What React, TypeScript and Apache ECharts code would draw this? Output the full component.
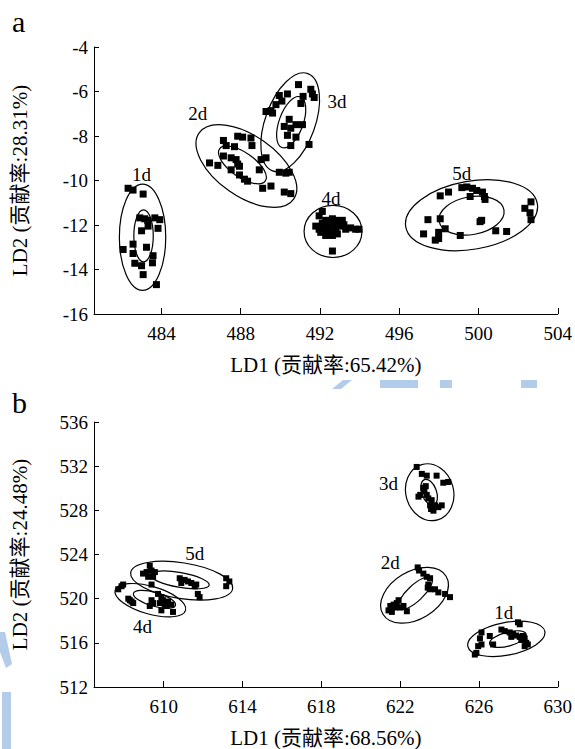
import React, { useEffect, useRef } from "react";
import * as echarts from "echarts";

const FONT = '"Liberation Serif", "Times New Roman", "Noto Sans CJK SC", serif';

// ---------- Panel a ----------
const X_TICKS_A = [484, 488, 492, 496, 500, 504];
const A_1D: number[][] = [
  [482.32, -10.35], [482.57, -10.43], [483.08, -10.61], [482.91, -11.68], [483.16, -11.72],
  [483.31, -11.79], [483.67, -11.68], [483.92, -11.76], [483.0, -12.26], [483.33, -12.05],
  [483.83, -12.15], [482.57, -12.86], [482.07, -13.1], [482.57, -13.28], [483.25, -13.0],
  [483.58, -13.38], [482.66, -13.72], [483.0, -13.83], [483.55, -13.7], [483.08, -14.23],
  [483.75, -14.68],
];
const A_2D: number[][] = [
  [486.43, -9.21], [486.85, -9.32], [487.13, -8.2], [487.27, -8.43], [487.69, -8.48],
  [487.85, -8.01], [488.1, -8.05], [488.52, -8.09], [488.57, -8.43], [487.13, -8.9],
  [487.52, -8.98], [487.77, -9.06], [487.85, -9.26], [487.52, -9.52], [487.94, -9.36],
  [489.03, -9.06], [489.28, -8.98], [488.94, -9.52], [487.94, -9.75], [488.19, -9.94],
  [488.35, -10.03], [489.11, -10.35], [489.53, -10.25], [489.95, -9.63], [490.28, -9.67],
  [490.45, -9.63], [490.2, -10.52], [490.53, -10.59],
];
const A_3D: number[][] = [
  [490.92, -5.69], [489.95, -6.18], [490.36, -6.11], [490.08, -6.43], [489.78, -6.59],
  [489.53, -6.86], [489.28, -6.9], [489.61, -6.97], [491.54, -5.9], [491.71, -6.27],
  [491.15, -6.22], [491.04, -6.54], [491.62, -6.11], [490.45, -7.25], [490.53, -7.65],
  [490.2, -7.57], [490.79, -7.49], [491.12, -7.49], [490.36, -7.97], [490.79, -8.05],
  [490.53, -8.43], [491.45, -8.38],
];
const A_4D: number[][] = [
  [492.12, -11.39], [491.96, -11.59], [491.79, -12.05], [491.96, -12.19], [492.12, -11.92],
  [492.29, -11.79], [492.46, -11.85], [492.63, -11.72], [492.8, -11.79], [492.96, -11.85],
  [493.13, -11.79], [493.05, -12.05], [492.8, -12.19], [492.54, -12.33], [492.29, -12.47],
  [492.04, -12.33], [492.21, -12.05], [492.46, -12.05], [492.71, -11.99], [493.55, -12.13],
  [493.8, -12.19], [493.97, -12.19], [492.63, -13.17], [493.21, -11.99], [492.88, -12.4],
  [492.37, -12.26], [492.63, -12.47], [493.3, -12.19],
];
const A_5D: number[][] = [
  [499.16, -10.32], [499.41, -10.29], [499.7, -10.35], [499.91, -10.45], [500.2, -10.52],
  [500.3, -10.72], [500.33, -10.85], [499.58, -10.72], [498.07, -10.69], [498.49, -10.52],
  [502.65, -10.96], [502.34, -11.25], [502.6, -11.45], [502.65, -11.76], [497.45, -11.76],
  [498.07, -11.72], [498.32, -12.17], [497.99, -12.33], [497.23, -12.4], [497.82, -12.68],
  [497.99, -12.61], [499.08, -12.47], [500.08, -11.85], [500.16, -11.79], [500.87, -12.26],
  [501.42, -12.29],
];
// ellipse: [centre x, centre y, semi-axis 1, semi-axis 2, angle in degrees]
const ELLIPSES_A: number[][] = [
  [483.05, -12.55, 1.17, 2.39, 0], [483.1, -12.49, 0.49, 1.17, 0],
  [488.29, -9.35, 2.91, 1.36, -35], [488.09, -9.3, 1.41, 0.55, -35],
  [490.5, -7.38, 2.61, 1.12, 70], [490.55, -7.38, 1.36, 0.54, 70],
  [492.66, -12.29, 1.46, 1.17, 0],
  [499.65, -11.56, 3.37, 1.53, 10], [499.65, -11.58, 1.66, 0.85, 10],
];
const LABEL_TEXT_A = ["1d", "2d", "3d", "4d", "5d"];
const LABEL_POS_A: number[][] = [
  [483.0, -9.72], [485.84, -7.01], [492.86, -6.46], [492.56, -10.79], [499.16, -9.67],
];

// ---------- Panel b ----------
const X_TICKS_B = [610, 614, 618, 622, 626, 630];
const B_1D: number[][] = [
  [627.98, 517.86], [628.07, 517.68], [627.14, 517.2], [627.31, 517.06], [627.56, 516.94],
  [627.73, 516.8], [627.64, 516.54], [627.89, 516.66], [628.07, 516.54], [628.23, 516.62],
  [628.32, 516.4], [628.15, 516.26], [628.4, 516.0], [628.48, 515.85], [628.32, 515.7],
  [626.13, 516.94], [626.55, 516.62], [626.05, 516.4], [625.96, 515.7], [626.13, 515.85],
  [626.72, 515.85], [625.79, 514.94], [625.87, 515.09],
];
const B_2D: number[][] = [
  [622.89, 522.83], [622.96, 522.55], [623.18, 522.27], [623.35, 521.98], [623.52, 521.85],
  [623.43, 521.28], [623.4, 521.0], [623.52, 520.85], [623.77, 520.85], [623.94, 520.57],
  [624.28, 520.43], [624.53, 520.14], [621.92, 519.86], [621.83, 519.6], [621.67, 519.46],
  [621.5, 519.34], [621.41, 518.94], [621.58, 518.8], [622.17, 519.34], [622.34, 518.86],
  [622.0, 519.2], [621.75, 519.2],
];
const B_3D: number[][] = [
  [622.84, 531.93], [623.1, 531.3], [623.35, 531.14], [623.85, 531.14], [624.19, 530.5],
  [624.44, 530.57], [623.02, 529.4], [622.93, 529.24], [623.23, 529.71], [623.35, 529.4],
  [623.43, 529.08], [623.6, 528.92], [623.52, 528.45], [623.69, 528.29], [623.77, 528.45],
  [623.94, 528.29], [624.11, 528.45], [623.69, 527.97], [623.57, 528.12], [623.18, 530.03],
  [623.3, 530.19],
];
const B_4D: number[][] = [
  [607.86, 521.13], [607.69, 520.85], [607.94, 521.28], [608.2, 520.0], [608.28, 519.86],
  [608.45, 519.6], [608.37, 519.74], [609.38, 519.86], [609.46, 519.6], [609.29, 519.34],
  [609.71, 520.43], [609.88, 520.14], [609.96, 519.86], [609.8, 519.6], [610.05, 519.46],
  [610.22, 519.74], [610.14, 519.34], [610.39, 519.46], [609.88, 518.94], [610.47, 518.8],
];
const B_5D: number[][] = [
  [609.29, 522.98], [609.38, 522.55], [609.13, 522.41], [609.55, 522.41], [608.95, 522.27],
  [609.21, 521.98], [609.46, 521.98], [609.38, 521.28], [610.81, 521.85], [611.06, 521.7],
  [611.23, 521.56], [610.89, 521.42], [611.4, 521.42], [611.65, 521.28], [611.57, 521.13],
  [613.17, 521.85], [613.33, 521.56], [613.17, 521.13], [611.73, 520.43], [611.82, 520.14],
];
const ELLIPSES_B: number[][] = [
  [627.39, 516.36, 1.99, 1.48, 11], [627.47, 516.34, 0.96, 0.63, 15],
  [622.73, 520.31, 1.87, 2.16, 31], [622.76, 520.49, 1.14, 0.72, 43],
  [623.5, 529.64, 1.46, 2.16, -74], [623.47, 529.64, 0.68, 0.67, -70],
  [609.32, 519.86, 1.86, 1.25, -16], [609.53, 519.94, 1.11, 0.63, -16],
  [610.91, 521.63, 2.62, 1.62, -9], [610.81, 521.7, 1.52, 0.67, -10],
];
const LABEL_TEXT_B = ["1d", "2d", "3d", "4d", "5d"];
const LABEL_POS_B: number[][] = [
  [627.26, 518.74], [621.5, 523.26], [621.41, 530.45], [608.92, 517.52], [611.57, 524.12],
];

const AXIS_NAMES = {
  ax: "LD1 (贡献率:65.42%)",
  ay: "LD2 (贡献率:28.31%)",
  bx: "LD1 (贡献率:68.56%)",
  by: "LD2 (贡献率:24.48%)",
};

const WATERMARK = "#b3cce9";

function ellipseRender(params: any, api: any) {
  const c = api.coord([api.value(0), api.value(1)]);
  const s = api.size([api.value(2), api.value(3)]);
  return {
    type: "ellipse",
    x: c[0],
    y: c[1],
    rotation: (api.value(4) * Math.PI) / 180,
    shape: { cx: 0, cy: 0, rx: s[0], ry: s[1] },
    style: { fill: "none", stroke: "#000", lineWidth: 1.2 },
    silent: true,
  };
}

function labelRender(texts: string[]) {
  return (params: any, api: any) => {
    const p = api.coord([api.value(0), api.value(1)]);
    return {
      type: "text",
      x: p[0],
      y: p[1],
      style: {
        text: texts[params.dataIndex],
        fill: "#000",
        fontSize: 19,
        fontFamily: FONT,
        align: "center",
        verticalAlign: "middle",
      },
      silent: true,
    };
  };
}

function xAxisCfg(grid: number, min: number, max: number, ticks: number[], name: string) {
  return {
    gridIndex: grid,
    type: "value",
    min,
    max,
    axisLine: { show: true, lineStyle: { color: "#000", width: 1 } },
    axisTick: { show: true, inside: true, length: 6, customValues: ticks, lineStyle: { color: "#000" } },
    axisLabel: { customValues: ticks, color: "#000", fontSize: 19, fontFamily: FONT, margin: 10 },
    splitLine: { show: false },
    name,
    nameLocation: "middle",
    nameGap: 40,
    nameTextStyle: { color: "#000", fontSize: 21, fontFamily: FONT },
  };
}

function yAxisCfg(grid: number, min: number, max: number, interval: number, name: string) {
  return {
    gridIndex: grid,
    type: "value",
    min,
    max,
    interval,
    axisLine: { show: true, lineStyle: { color: "#000", width: 1 } },
    axisTick: { show: true, inside: true, length: 5, lineStyle: { color: "#000" } },
    axisLabel: { color: "#000", fontSize: 19, fontFamily: FONT, margin: 6 },
    splitLine: { show: false },
    name,
    nameLocation: "middle",
    nameGap: 64,
    nameRotate: 90,
    nameTextStyle: { color: "#000", fontSize: 21, fontFamily: FONT },
  };
}

function scatter(data: number[][], idx: number, size: number, name: string) {
  return {
    type: "scatter",
    name,
    xAxisIndex: idx,
    yAxisIndex: idx,
    data,
    symbol: "rect",
    symbolSize: size,
    itemStyle: { color: "#000", opacity: 1 },
    silent: true,
  };
}

export default function App() {
  const ref = useRef<HTMLDivElement>(null);
  useEffect(() => {
    if (!ref.current) return;
    const chart = echarts.init(ref.current, undefined, { renderer: "svg" });
    chart.setOption({
      animation: false,
      backgroundColor: "#fff",
      grid: [
        { left: 94, top: 47, width: 466, height: 267 },
        { left: 94, top: 422, width: 466, height: 267 },
      ],
      xAxis: [
        xAxisCfg(0, 480.6, 504, X_TICKS_A, AXIS_NAMES.ax),
        xAxisCfg(1, 606.46, 630, X_TICKS_B, AXIS_NAMES.bx),
      ],
      yAxis: [
        yAxisCfg(0, -16, -4, 2, AXIS_NAMES.ay),
        yAxisCfg(1, 512, 536, 4, AXIS_NAMES.by),
      ],
      graphic: [
        { type: "text", left: 12, top: 6, style: { text: "a", fontSize: 30, fontFamily: FONT, fill: "#000" } },
        { type: "text", left: 12, top: 387, style: { text: "b", fontSize: 30, fontFamily: FONT, fill: "#000" } },
        // faint watermark fragments
        { type: "polygon", silent: true, z: -1, shape: { points: [[332, 389], [341, 389], [352, 380], [343, 380]] }, style: { fill: WATERMARK } },
        { type: "rect", silent: true, z: -1, shape: { x: 380, y: 380, width: 38, height: 8 }, style: { fill: WATERMARK } },
        { type: "rect", silent: true, z: -1, shape: { x: 440, y: 380, width: 12, height: 8 }, style: { fill: WATERMARK } },
        { type: "rect", silent: true, z: -1, shape: { x: 521, y: 380, width: 16, height: 8 }, style: { fill: WATERMARK } },
        { type: "polygon", silent: true, z: -1, shape: { points: [[0, 632], [5, 632], [12, 664], [6, 668], [0, 652]] }, style: { fill: WATERMARK } },
        { type: "rect", silent: true, z: -1, shape: { x: 2, y: 692, width: 9, height: 57 }, style: { fill: WATERMARK } },
      ],
      series: [
        scatter(A_1D, 0, 7, "a-1d"),
        scatter(A_2D, 0, 7, "a-2d"),
        scatter(A_3D, 0, 7, "a-3d"),
        scatter(A_4D, 0, 7, "a-4d"),
        scatter(A_5D, 0, 7, "a-5d"),
        { type: "custom", xAxisIndex: 0, yAxisIndex: 0, data: ELLIPSES_A, renderItem: ellipseRender, clip: false, silent: true },
        { type: "custom", xAxisIndex: 0, yAxisIndex: 0, data: LABEL_POS_A, renderItem: labelRender(LABEL_TEXT_A), clip: false, silent: true },
        scatter(B_1D, 1, 6, "b-1d"),
        scatter(B_2D, 1, 6, "b-2d"),
        scatter(B_3D, 1, 6, "b-3d"),
        scatter(B_4D, 1, 6, "b-4d"),
        scatter(B_5D, 1, 6, "b-5d"),
        { type: "custom", xAxisIndex: 1, yAxisIndex: 1, data: ELLIPSES_B, renderItem: ellipseRender, clip: false, silent: true },
        { type: "custom", xAxisIndex: 1, yAxisIndex: 1, data: LABEL_POS_B, renderItem: labelRender(LABEL_TEXT_B), clip: false, silent: true },
      ],
    });
    return () => chart.dispose();
  }, []);
  return (
    <div
      ref={ref}
      style={{ position: "fixed", left: 0, top: 0, width: 575, height: 749, background: "#fff" }}
    />
  );
}
